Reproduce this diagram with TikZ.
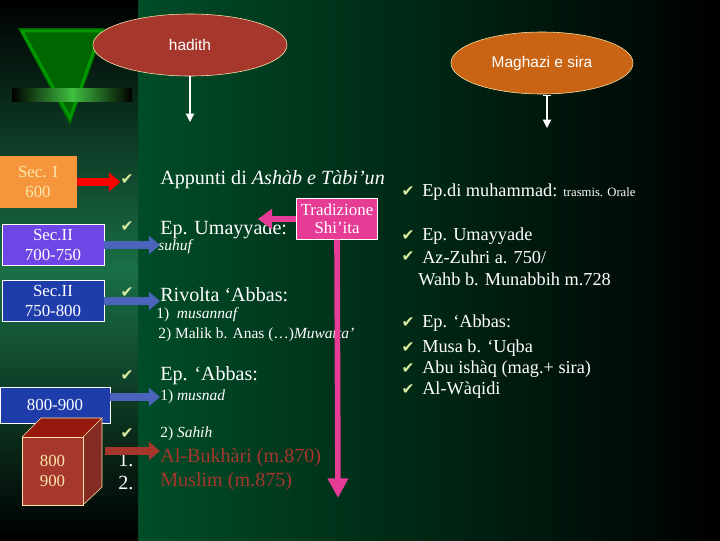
\documentclass[tikz,border=0pt]{standalone}
\usepackage{fontspec}
\setmainfont{Liberation Serif}
\setsansfont{Liberation Sans}
\newfontfamily\symfont{DejaVu Sans}
\usetikzlibrary{shapes.geometric,arrows.meta}
\definecolor{hadithred}{RGB}{165,55,45}
\definecolor{sirabrown}{RGB}{200,100,20}
\definecolor{secorange}{RGB}{245,150,60}
\definecolor{secpurple}{RGB}{110,70,230}
\definecolor{secblue}{RGB}{30,60,170}
\definecolor{shipink}{RGB}{230,60,150}
\definecolor{checkgreen}{RGB}{215,235,160}
\definecolor{paleyellow}{RGB}{250,230,170}
\definecolor{bggreen}{RGB}{0,95,50}
\tikzset{
  txt/.style={anchor=west,inner sep=0pt,text=white,font=\fontsize{14.3}{16}\selectfont},
  small/.style={anchor=west,inner sep=0pt,text=white,font=\fontsize{11}{13}\selectfont},
  rtxt/.style={anchor=west,inner sep=0pt,text=white,font=\fontsize{13}{15}\selectfont},
  chk/.style={inner sep=0pt,text=checkgreen,font=\symfont\fontsize{11}{11}\selectfont},
  secbox/.style={draw=white,thin,inner sep=0pt,align=center,text=white,font=\fontsize{12}{14}\selectfont},
  topic/.style={ellipse,draw=paleyellow,thin,text=white,font=\sffamily\fontsize{11}{13}\selectfont},
  bigarrow/.style={line width=5pt,-{Triangle[width=13pt,length=8pt]}}
}
\begin{document}
\begin{tikzpicture}[x=0.025cm,y=-0.025cm]
\useasboundingbox (0,0) rectangle (720,540);
% background
\shade[left color=bggreen,right color=black] (0,0) rectangle (720,540);
\shade[top color=black,bottom color=black,middle color=bggreen!90!white] (0,0) rectangle (138,540);
% logo
\fill[green!40!black] (18,28) -- (105,28) -- (70,125) -- cycle;
\draw[green!60!black,line width=2pt] (22,31) -- (101,31) -- (70,118) -- cycle;
\shade[left color=black,right color=black,middle color=green!50!gray] (12,88) rectangle (132,101);

% topics
\node[topic,fill=hadithred,minimum width=4.85cm,minimum height=1.55cm] (hadith) at (190,45) {hadith};
\node[topic,fill=sirabrown,minimum width=4.55cm,minimum height=1.55cm] (sira) at (542,63) {Maghazi e sira};
\coordinate (hadithend) at (190,122);
\coordinate (sirastart) at (547,95);
\coordinate (siraend) at (547,128);
\draw[white,thick,-{Triangle[width=6pt,length=6pt]}] (hadith.south) -- (hadithend);
\draw[white,thick,{Bar[width=6pt]}-{Triangle[width=6pt,length=6pt]}] (sirastart) -- (siraend);

% centuries
\node[secbox,fill=secorange,draw=none,text=paleyellow,minimum width=1.95cm,minimum height=1.3cm] (sec1) at (38,182) {Sec. I\\600};
\node[secbox,fill=secpurple,minimum width=2.55cm,minimum height=1.02cm] (sec2a) at (53,245) {Sec.II\\700-750};
\node[secbox,fill=secblue,minimum width=2.55cm,minimum height=1.02cm] (sec2b) at (53,301) {Sec.II\\750-800};
\node[secbox,fill=secblue,minimum width=2.75cm,minimum height=0.9cm] (sec3) at (55,405) {800-900};
% cube
\fill[hadithred!80!black] (83,437) -- (102,418) -- (102,487) -- (83,505) -- cycle;
\fill[hadithred!115!white] (22,437) -- (41,418) -- (102,418) -- (83,437) -- cycle;
\draw[paleyellow,thin] (22,437) -- (41,418) -- (102,418) -- (102,487) -- (83,505);
\draw[paleyellow,thin] (83,437) -- (102,418);
\node[secbox,fill=hadithred,draw=paleyellow,text=paleyellow,minimum width=1.52cm,minimum height=1.7cm] (cube) at (52.5,471) {800\\900};

% checks
\foreach \y/\n in {180/c1,227/c2,293/c3,376/c4,434/c5}
  \node[chk] (\n) at (127,\y) {✔};
\foreach \y in {192,236,257,323,348,369,390}
  \node[chk] at (408,\y) {✔};

% hadith column
\node[txt] (appunti) at (160,180) {Appunti di \textit{Ashàb e Tàbi’un}};
\node[txt] (umayyade) at (160,230) {Ep. Umayyade:};
\node[small] at (158,247) {\textit{suhuf}};
\node[txt] (rivolta) at (160,295) {Rivolta ‘Abbas:};
\node[small] at (156,315) {1)\ \ \textit{musannaf}};
\node[small] at (158,335) {2) Malik b. Anas (…)\textit{Muwatta’}};
\node[txt] (abbas) at (160,376) {Ep. ‘Abbas:};
\node[small] (musnad) at (160,397) {1) \textit{musnad}};
\node[small] at (160,434) {2) \textit{Sahih}};
\node[txt,text=hadithred] (bukhari) at (160,458) {Al-Bukhàri (m.870)};
\node[txt,text=hadithred] at (160,482) {Muslim (m.875)};
\node[txt] at (118,460) {1.};
\node[txt] at (118,483) {2.};

% shi'ita
\node[secbox,fill=shipink,minimum width=2.02cm,minimum height=1.02cm,font=\fontsize{12}{13}\selectfont] (shia) at (337,219) {Tradizione\\Shi’ita};
\coordinate (shiaend) at (338,498);
\draw[shipink,line width=4pt,-{Triangle[width=14pt,length=10pt]}] (shia.west) -- (258,219);
\draw[shipink,line width=4pt,-{Triangle[width=14pt,length=14pt]}] (shia.south) -- (shiaend);

% arrows
\draw[red,bigarrow] (sec1.east) -- (c1.west |- sec1.east);
\draw[secblue!80!white,bigarrow] (sec2a.east) -- (umayyade.west |- sec2a.east);
\draw[secblue!80!white,bigarrow] (sec2b.east) -- (rivolta.west |- sec2b.east);
\draw[secblue!80!white,bigarrow] (sec3.east |- musnad) -- (musnad.west);
\draw[hadithred,bigarrow] (105,451) -- (bukhari.west |- 0,451);

% sira column
\node[rtxt] at (422,192) {Ep.di muhammad: {\fontsize{9}{10}\selectfont trasmis. Orale}};
\node[rtxt] at (422,236) {Ep. Umayyade};
\node[rtxt] at (422,257) {Az-Zuhri a. 750/};
\node[rtxt] at (418,279) {Wahb b. Munabbih m.728};
\node[rtxt] at (422,323) {Ep. ‘Abbas:};
\node[rtxt] at (422,348) {Musa b. ‘Uqba};
\node[rtxt] at (422,369) {Abu ishàq (mag.+ sira)};
\node[rtxt] at (422,390) {Al-Wàqidi};
\end{tikzpicture}
\end{document}
